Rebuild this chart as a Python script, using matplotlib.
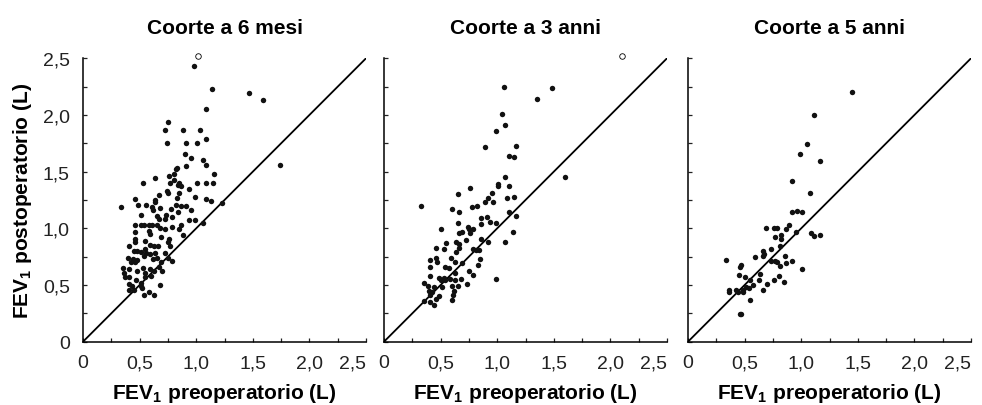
import matplotlib
matplotlib.use("Agg")
import matplotlib.pyplot as plt
from matplotlib.ticker import MultipleLocator, FixedLocator

plt.rcParams['font.family'] = ['Liberation Sans', 'DejaVu Sans']
plt.rcParams['mathtext.fontset'] = 'custom'
plt.rcParams['mathtext.rm'] = 'Liberation Sans'
plt.rcParams['mathtext.bf'] = 'Liberation Sans:bold'

# Titoli dei pannelli
titoli = ['Coorte a 6 mesi', 'Coorte a 3 anni', 'Coorte a 5 anni']
tick_valori = [0, 0.5, 1.0, 1.5, 2.0, 2.5]
tick_etichette = ['0', '0,5', '1,0', '1,5', '2,0', '2,5']

# Coorte a 6 mesi (FEV1 pre, FEV1 post)
x_6m = [0.98, 1.14, 1.47, 1.59, 1.09, 0.75, 0.72, 0.88, 1.03, 1.09, 0.74, 0.91, 1.01,
        0.90, 0.95, 1.06, 1.09, 0.91, 1.74, 0.83, 0.82, 0.80, 0.76, 1.16, 0.80, 0.64,
        0.53, 0.77, 0.85, 0.84, 0.87, 1.01, 1.09, 1.15, 0.94, 0.74, 0.75, 0.67, 0.85,
        0.99, 0.46, 0.64, 0.64, 0.83, 1.09, 1.13, 0.34, 0.49, 0.56, 0.61, 0.68, 0.82,
        0.87, 0.91, 0.95, 1.23, 0.62, 0.78, 0.51, 0.65, 0.73, 0.84, 0.67, 0.72, 0.79,
        0.99, 0.94, 1.06, 0.46, 0.51, 0.54, 0.58, 0.61, 0.65, 0.79, 0.87, 0.85, 0.72,
        0.68, 0.46, 0.58, 0.59, 0.69, 0.46, 0.76, 0.88, 0.46, 0.55, 0.75, 0.41, 0.59,
        0.63, 0.66, 0.77, 0.55, 0.45, 0.48, 0.51, 0.56, 0.59, 0.64, 0.72, 0.40, 0.44,
        0.48, 0.54, 0.62, 0.65, 0.75, 0.79, 0.42, 0.46, 0.69, 0.35, 0.41, 0.53, 0.59,
        0.67, 0.36, 0.48, 0.55, 0.63, 0.70, 0.37, 0.41, 0.55, 0.60, 0.47, 0.51, 0.41,
        0.43, 0.51, 0.68, 0.52, 0.41, 0.45, 0.58, 0.54, 0.63]
y_6m = [2.43, 2.23, 2.19, 2.13, 2.05, 1.94, 1.87, 1.87, 1.87, 1.79, 1.75, 1.75, 1.75,
        1.66, 1.62, 1.60, 1.56, 1.55, 1.56, 1.53, 1.52, 1.48, 1.46, 1.48, 1.43, 1.44,
        1.40, 1.40, 1.40, 1.38, 1.37, 1.40, 1.40, 1.40, 1.35, 1.33, 1.31, 1.29, 1.31,
        1.28, 1.26, 1.25, 1.23, 1.27, 1.26, 1.24, 1.19, 1.21, 1.21, 1.19, 1.18, 1.21,
        1.20, 1.20, 1.16, 1.22, 1.16, 1.17, 1.12, 1.11, 1.12, 1.14, 1.08, 1.08, 1.10,
        1.07, 1.07, 1.05, 1.03, 1.03, 1.03, 1.03, 1.03, 1.03, 1.01, 1.03, 0.99, 0.99,
        1.00, 0.97, 0.98, 0.95, 0.92, 0.91, 0.91, 0.94, 0.88, 0.89, 0.88, 0.84, 0.85,
        0.84, 0.84, 0.84, 0.82, 0.80, 0.80, 0.79, 0.78, 0.77, 0.78, 0.78, 0.74, 0.73,
        0.72, 0.76, 0.73, 0.74, 0.74, 0.71, 0.70, 0.70, 0.70, 0.65, 0.64, 0.65, 0.64,
        0.66, 0.61, 0.62, 0.61, 0.62, 0.62, 0.57, 0.57, 0.57, 0.58, 0.54, 0.52, 0.51,
        0.49, 0.49, 0.50, 0.47, 0.46, 0.46, 0.44, 0.41, 0.41]

# Coorte a 3 anni
x_3a = [1.06, 1.48, 1.35, 1.04, 1.07, 0.99, 0.89, 1.17, 1.10, 1.15, 1.60, 1.07, 1.01,
        1.01, 1.10, 0.76, 0.65, 0.95, 0.92, 0.96, 0.89, 1.09, 1.15, 0.33, 0.60, 0.66,
        0.78, 0.82, 1.10, 1.17, 0.91, 0.86, 0.94, 0.99, 0.65, 0.86, 0.74, 0.75, 0.79,
        0.50, 0.66, 0.69, 0.76, 1.14, 0.86, 0.92, 0.72, 0.64, 0.66, 0.55, 0.46, 0.53,
        0.66, 0.79, 0.81, 0.84, 1.07, 0.64, 0.59, 0.41, 0.46, 0.85, 0.47, 0.54, 0.63,
        0.69, 0.41, 0.83, 0.57, 0.75, 0.79, 0.41, 0.49, 0.53, 0.63, 0.68, 0.35, 0.50,
        0.54, 0.58, 0.63, 0.99, 0.39, 0.44, 0.51, 0.60, 0.65, 0.73, 0.42, 0.49, 0.62,
        0.41, 0.61, 0.35, 0.41, 0.44, 0.60, 0.46, 0.40]
y_3a = [2.25, 2.24, 2.14, 2.01, 1.91, 1.86, 1.72, 1.73, 1.64, 1.63, 1.45, 1.45, 1.39,
        1.37, 1.37, 1.36, 1.30, 1.31, 1.27, 1.23, 1.23, 1.27, 1.28, 1.20, 1.17, 1.14,
        1.19, 1.20, 1.14, 1.11, 1.10, 1.09, 1.06, 1.05, 1.05, 1.04, 1.01, 0.99, 0.99,
        0.99, 0.96, 0.97, 0.96, 0.97, 0.91, 0.88, 0.90, 0.88, 0.86, 0.87, 0.83, 0.82,
        0.83, 0.82, 0.81, 0.81, 0.88, 0.79, 0.74, 0.72, 0.74, 0.73, 0.70, 0.66, 0.70,
        0.69, 0.66, 0.68, 0.65, 0.62, 0.59, 0.58, 0.56, 0.56, 0.61, 0.55, 0.52, 0.54,
        0.54, 0.55, 0.54, 0.55, 0.49, 0.48, 0.48, 0.49, 0.49, 0.51, 0.44, 0.40, 0.45,
        0.41, 0.41, 0.36, 0.35, 0.32, 0.37, 0.38, 0.45]

# Coorte a 5 anni
x_5a = [1.45, 1.11, 1.05, 0.99, 1.17, 0.92, 1.08, 0.92, 0.96, 1.01, 0.89, 0.87, 0.95,
        0.69, 0.76, 0.79, 0.77, 0.82, 0.82, 1.09, 1.11, 1.17, 0.81, 0.73, 0.59, 0.66,
        0.67, 0.66, 0.86, 0.77, 0.79, 0.81, 0.87, 0.92, 0.73, 0.34, 0.47, 0.46, 0.45,
        0.50, 0.64, 0.80, 1.01, 0.63, 0.76, 0.85, 0.70, 0.55, 0.57, 0.51, 0.49, 0.54,
        0.42, 0.36, 0.36, 0.44, 0.49, 0.66, 0.55, 0.46, 0.47]
y_5a = [2.20, 2.00, 1.74, 1.66, 1.59, 1.42, 1.31, 1.14, 1.15, 1.14, 1.03, 0.99, 0.97,
        1.00, 1.00, 1.00, 0.92, 0.94, 0.91, 0.96, 0.93, 0.94, 0.84, 0.82, 0.75, 0.80,
        0.77, 0.76, 0.76, 0.71, 0.70, 0.67, 0.69, 0.71, 0.71, 0.72, 0.68, 0.66, 0.59,
        0.57, 0.60, 0.58, 0.64, 0.54, 0.54, 0.53, 0.51, 0.54, 0.50, 0.48, 0.46, 0.47,
        0.46, 0.46, 0.44, 0.44, 0.44, 0.46, 0.37, 0.24, 0.24]

# Punti aperti (fuori scala)
aperti_x = [1.02, 2.10, None]
aperti_y = [2.52, 2.52, None]

dati = [(x_6m, y_6m), (x_3a, y_3a), (x_5a, y_5a)]
sinistre = [83 / 982, 384 / 982, 688 / 982]

fig = plt.figure(figsize=(9.82, 4.06), dpi=100)

for i, (xs, ys) in enumerate(dati):
    ax = fig.add_axes([sinistre[i], 63.3 / 406, 283 / 982, 283.4 / 406])
    ax.plot([0, 2.5], [0, 2.5], color='black', lw=1.3, zorder=2)
    ax.plot(xs, ys, linestyle='none', marker='o', ms=3.9, color='#111111',
            markeredgewidth=0, clip_on=False, zorder=3)
    if aperti_x[i] is not None:
        ax.plot([aperti_x[i]], [aperti_y[i]], linestyle='none', marker='o', ms=4,
                markerfacecolor='white', markeredgecolor='black',
                markeredgewidth=0.6, clip_on=False, zorder=3)
    ax.set_xlim(0, 2.5)
    ax.set_ylim(0, 2.5)
    for lato in ['top', 'right']:
        ax.spines[lato].set_visible(False)
    for lato in ['left', 'bottom']:
        ax.spines[lato].set_linewidth(1.1)
    ax.xaxis.set_major_locator(FixedLocator(tick_valori))
    ax.yaxis.set_major_locator(FixedLocator(tick_valori))
    ax.xaxis.set_minor_locator(MultipleLocator(0.25))
    ax.yaxis.set_minor_locator(MultipleLocator(0.25))
    ax.set_xticklabels(tick_etichette)
    # l'ultima etichetta "2,5" è allineata a destra sul bordo dell'asse
    ax.get_xticklabels()[-1].set_horizontalalignment('right')
    ax.tick_params(which='both', direction='in', length=3, width=0.9,
                   labelsize=14, pad=9, colors='#222222')
    if i == 0:
        ax.set_yticklabels(tick_etichette)
        ax.set_ylabel(r'FEV$_\mathbf{1}$ postoperatorio (L)', fontsize=15,
                      fontweight='bold')
        ax.yaxis.set_label_coords(-0.215, 0.5)
        ax.yaxis.label.set_va('center')
        ax.tick_params(axis='y', pad=9.5)
    else:
        ax.set_yticklabels([])
    ax.set_xlabel(r'FEV$_\mathbf{1}$ preoperatorio (L)', fontsize=15,
                  fontweight='bold')
    ax.xaxis.set_label_coords(0.5, -0.181)
    ax.xaxis.label.set_va('center')
    ax.set_title(titoli[i], fontsize=15, fontweight='bold', pad=18)

fig.savefig('out.png', dpi=100)
